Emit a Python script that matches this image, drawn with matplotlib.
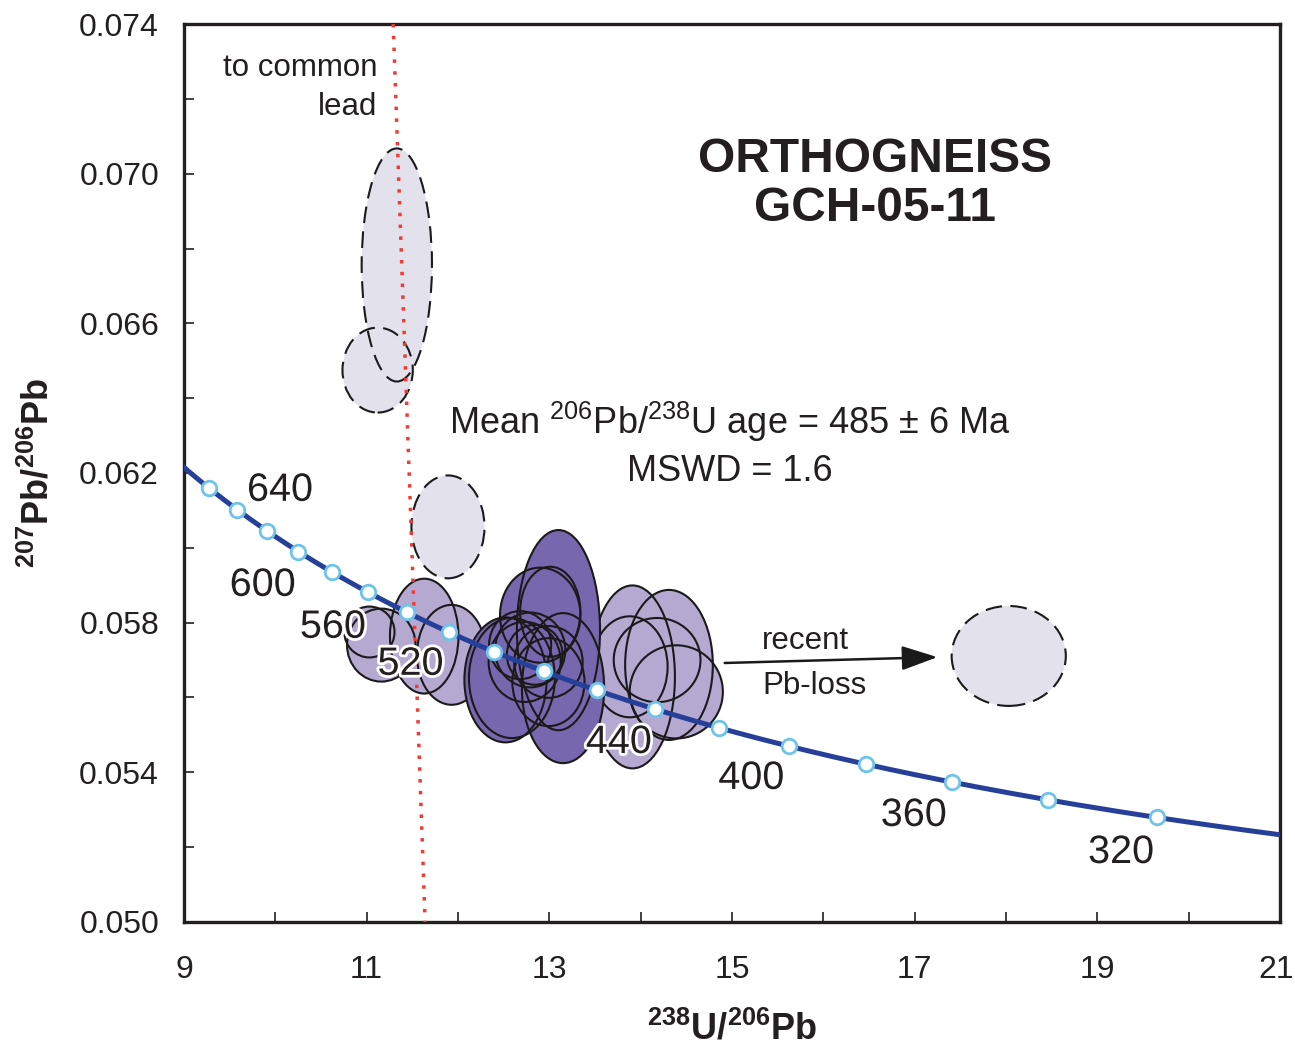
import numpy as np
import matplotlib
matplotlib.use("Agg")
import matplotlib.pyplot as plt
from matplotlib.patches import Ellipse
from matplotlib.ticker import FixedLocator, FormatStrFormatter
import matplotlib.patheffects as pe
import matplotlib.transforms as mtransforms

plt.rcParams['font.family'] = ['Liberation Sans', 'DejaVu Sans']
plt.rcParams['mathtext.fontset'] = 'custom'
plt.rcParams['mathtext.rm'] = 'Liberation Sans'
plt.rcParams['mathtext.bf'] = 'Liberation Sans:bold'

# decay constants (1/yr) and present-day 238U/235U
lam238 = 1.55125e-10
lam235 = 9.8485e-10
u_ratio = 137.88

# concordia age marks (Ma) and the ones that carry a label
mark_ages = np.arange(320, 661, 20)
label_ages = [640, 600, 560, 520, 440, 400, 360, 320]
label_xy = [(10.05, 0.06155), (9.86, 0.05901), (10.63, 0.05789), (11.48, 0.05690),
            (13.76, 0.05481), (15.21, 0.05385), (16.99, 0.05286), (19.26, 0.05187)]

# error ellipses: x (238U/206Pb), y (207Pb/206Pb), width, height
conc_light = [  # concordant, light purple
    (11.03, 0.05775, 0.55, 0.00136),
    (11.16, 0.05740, 0.75, 0.00195),
    (11.63, 0.05764, 0.75, 0.00307),
    (11.93, 0.05714, 0.76, 0.00267),
    (13.91, 0.05655, 0.93, 0.00489),
    (14.31, 0.05687, 0.96, 0.00401),
    (13.88, 0.05682, 0.83, 0.00270),
    (14.18, 0.05700, 0.95, 0.00225),
    (14.39, 0.05615, 1.02, 0.00249),
]
conc_dark = [  # used in the mean age, dark purple
    (13.10, 0.05780, 0.91, 0.00535),
    (13.15, 0.05625, 0.90, 0.00401),
    (12.90, 0.05820, 0.88, 0.00254),
    (12.52, 0.05647, 0.90, 0.00334),
    (12.59, 0.05652, 0.94, 0.00321),
    (12.79, 0.05727, 0.77, 0.00200),
    (12.73, 0.05695, 0.79, 0.00214),
    (12.99, 0.05695, 0.75, 0.00192),
    (12.68, 0.05740, 0.68, 0.00182),
    (12.84, 0.05714, 0.61, 0.00160),
    (12.99, 0.05641, 0.79, 0.00235),
    (13.01, 0.05829, 0.66, 0.00241),
]
discordant = [  # common lead / Pb-loss, dashed
    (11.33, 0.06756, 0.77, 0.00623),
    (11.12, 0.06475, 0.77, 0.00227),
    (11.89, 0.06056, 0.80, 0.00275),
    (18.03, 0.05711, 1.25, 0.00267),
]

# common-lead trend line ends
common_x = [11.29, 11.64]
common_y = [0.074, 0.050]


def concordia(t_ma):
    t = np.asarray(t_ma) * 1e6
    e238 = np.exp(lam238 * t) - 1
    e235 = np.exp(lam235 * t) - 1
    return 1 / e238, e235 / e238 / u_ratio


fig = plt.figure(figsize=(12.95, 10.49), dpi=100)
ax = fig.add_axes([0.1421, 0.1211, 0.8463, 0.8560])


def draw_group(group, face, ls, z):
    for x, y, w, h in group:
        ax.add_patch(Ellipse((x, y), w, h, facecolor=face, edgecolor='none', zorder=z))
    for x, y, w, h in group:
        ax.add_patch(Ellipse((x, y), w, h, facecolor='none', edgecolor='#1a1a1a',
                             linewidth=1.5, linestyle=ls, zorder=z + 0.1))


draw_group(discordant, '#e3e1ec', (0, (8, 4)), 2)
draw_group(conc_light, '#b6a9d1', '-', 2.5)
draw_group(conc_dark, '#7767ae', '-', 3)

ax.plot(common_x, common_y, color='#ee3b33', linewidth=2.5,
        linestyle=(0, (1.0, 2.4)), zorder=3.5)

t_line = np.linspace(299, 682, 400)
cx, cy = concordia(t_line)
ax.plot(cx, cy, color='#26409a', linewidth=3.6, zorder=4)
mx, my = concordia(mark_ages)
ax.plot(mx, my, 'o', markersize=10.5, markerfacecolor='white',
        markeredgecolor='#6fc3e8', markeredgewidth=2, zorder=5)

halo = [pe.withStroke(linewidth=4, foreground='white')]
for age, (lx, ly) in zip(label_ages, label_xy):
    ax.text(lx, ly, str(age), fontsize=28.5, ha='center', va='center',
            color='#231f20', zorder=6, path_effects=halo)

ax.text(11.12, 0.07282, 'to common', fontsize=22.5, ha='right', va='center', color='#231f20')
ax.text(11.12, 0.07178, 'lead', fontsize=22.5, ha='right', va='center', color='#231f20')

ax.text(16.57, 0.07037, 'ORTHOGNEISS', fontsize=34.5, fontweight='bold',
        ha='center', va='center', color='#231f20')
ax.text(16.57, 0.06908, 'GCH-05-11', fontsize=34.5, fontweight='bold',
        ha='center', va='center', color='#231f20')

ax.text(14.98, 0.06336, r'Mean $^{206}$Pb/$^{238}$U age = 485 ± 6 Ma', fontsize=26,
        ha='center', va='center', color='#231f20')
ax.text(14.98, 0.06203, 'MSWD = 1.6', fontsize=26, ha='center', va='center', color='#231f20')

ax.annotate('', xy=(17.28, 0.05708), xytext=(14.89, 0.05692),
            arrowprops=dict(arrowstyle='-|>,head_length=2.2,head_width=0.75',
                            color='#1a1a1a', linewidth=1.8))
ax.text(15.33, 0.05751, 'recent', fontsize=22.5, ha='left', va='center', color='#231f20')
ax.text(15.33, 0.05631, 'Pb-loss', fontsize=22.5, ha='left', va='center', color='#231f20')

ax.set_xlim(9, 21)
ax.set_ylim(0.050, 0.074)
ax.xaxis.set_major_locator(FixedLocator(np.arange(9, 22, 2)))
ax.xaxis.set_minor_locator(FixedLocator(np.arange(10, 21, 2)))
ax.yaxis.set_major_locator(FixedLocator(np.arange(0.050, 0.0741, 0.004)))
ax.yaxis.set_minor_locator(FixedLocator(np.arange(0.052, 0.0721, 0.004)))
ax.yaxis.set_major_formatter(FormatStrFormatter('%.3f'))
ax.tick_params(which='both', direction='in', length=7, width=1.2, color='#231f20',
               labelsize=23, labelcolor='#231f20')
ax.tick_params(axis='x', pad=24)
ax.tick_params(axis='y', pad=18)
for s in ax.spines.values():
    s.set_linewidth(2.4)
    s.set_color('#231f20')

# nudge the last x tick label so it stays inside the figure
last = ax.get_xticklabels()[-1]
last.set_transform(last.get_transform() +
                   mtransforms.ScaledTranslation(-4 / 100, 0, fig.dpi_scale_trans))

ax.set_xlabel(r'$^{\mathbf{238}}\mathbf{U/}^{\mathbf{206}}\mathbf{Pb}$', fontsize=26,
              labelpad=19, color='#231f20')
ax.set_ylabel(r'$^{\mathbf{207}}\mathbf{Pb/}^{\mathbf{206}}\mathbf{Pb}$', fontsize=26,
              labelpad=16, color='#231f20')

fig.savefig('out.png', dpi=100)
